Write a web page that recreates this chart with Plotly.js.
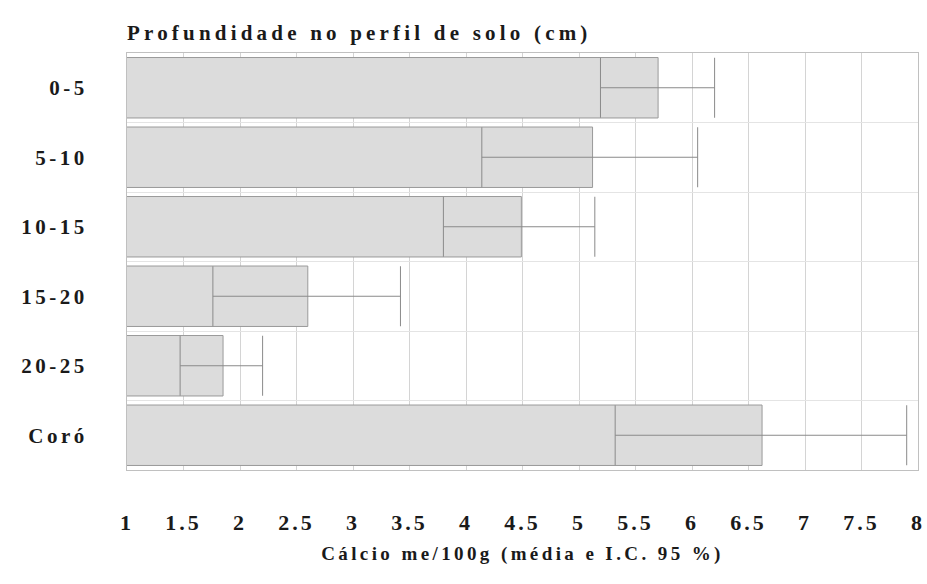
<!DOCTYPE html>
<html>
<head>
<meta charset="utf-8">
<script src="https://cdn.plot.ly/plotly-3.0.1.min.js"></script>
<style>
  html, body { margin: 0; padding: 0; background: #fff; }
  #chart { width: 927px; height: 584px; }
  .xtick text { letter-spacing: 3px; }
  .ytick text { letter-spacing: 3.5px; }
  .gtitle { letter-spacing: 4.2px; }
  .g-xtitle text { letter-spacing: 3.4px; }
</style>
</head>
<body>
<div id="chart"></div>
<script>
const categories = ["0-5", "5-10", "10-15", "15-20", "20-25", "Coró"];
const means = [5.70, 5.12, 4.49, 2.60, 1.85, 6.62];
const lowerCI = [5.19, 4.14, 3.80, 1.76, 1.47, 5.32];
const upperCI = [6.20, 6.05, 5.14, 3.42, 2.20, 7.90];
const xTickVals = [1, 1.5, 2, 2.5, 3, 3.5, 4, 4.5, 5, 5.5, 6, 6.5, 7, 7.5, 8];
const xTickText = ["1", "1.5", "2", "2.5", "3", "3.5", "4", "4.5", "5", "5.5", "6", "6.5", "7", "7.5", "8"];

const plusErr = means.map((m, i) => upperCI[i] - m);
const minusErr = means.map((m, i) => m - lowerCI[i]);

const fontFam = '"Liberation Serif", "Times New Roman", serif';

const trace = {
  type: 'bar',
  orientation: 'h',
  y: categories,
  x: means,
  marker: { color: '#dcdcdc', line: { color: '#9a9a9a', width: 1 } },
  error_x: {
    type: 'data',
    symmetric: false,
    array: plusErr,
    arrayminus: minusErr,
    color: '#8a8a8a',
    thickness: 1,
    width: 30
  },
  hoverinfo: 'x+y'
};

const layout = {
  width: 927,
  height: 584,
  margin: { l: 127, r: 9, t: 53, b: 114 },
  paper_bgcolor: '#ffffff',
  plot_bgcolor: '#ffffff',
  showlegend: false,
  bargap: 0.13,
  title: {
    text: 'Profundidade no perfil de solo (cm)',
    x: 127 / 927,
    xanchor: 'left',
    xref: 'container',
    y: 1 - 33 / 584,
    yanchor: 'middle',
    font: { family: fontFam, size: 21, weight: 700, color: '#1a1a1a' }
  },
  xaxis: {
    range: [1, 8],
    tickmode: 'array',
    tickvals: xTickVals,
    ticktext: xTickText,
    ticklabeloverflow: 'allow',
    showgrid: true,
    gridcolor: '#d4d4d4',
    gridwidth: 1,
    zeroline: false,
    showline: true,
    mirror: true,
    linecolor: '#c0c0c0',
    linewidth: 1,
    ticks: '',
    ticklabelstandoff: 33,
    tickfont: { family: fontFam, size: 22, weight: 700, color: '#1a1a1a' },
    title: {
      text: 'Cálcio me/100g (média e I.C. 95 %)',
      standoff: 12,
      font: { family: fontFam, size: 19, weight: 700, color: '#1a1a1a' }
    },
    automargin: false,
    fixedrange: true
  },
  yaxis: {
    type: 'category',
    autorange: 'reversed',
    tickson: 'boundaries',
    showgrid: true,
    gridcolor: '#e4e4e4',
    showline: true,
    mirror: true,
    linecolor: '#c0c0c0',
    linewidth: 1,
    ticks: '',
    ticklabelstandoff: 34,
    tickfont: { family: fontFam, size: 21, weight: 700, color: '#1a1a1a' },
    automargin: false,
    fixedrange: true
  }
};

Plotly.newPlot('chart', [trace], layout, { displayModeBar: false, staticPlot: true });
</script>
</body>
</html>
